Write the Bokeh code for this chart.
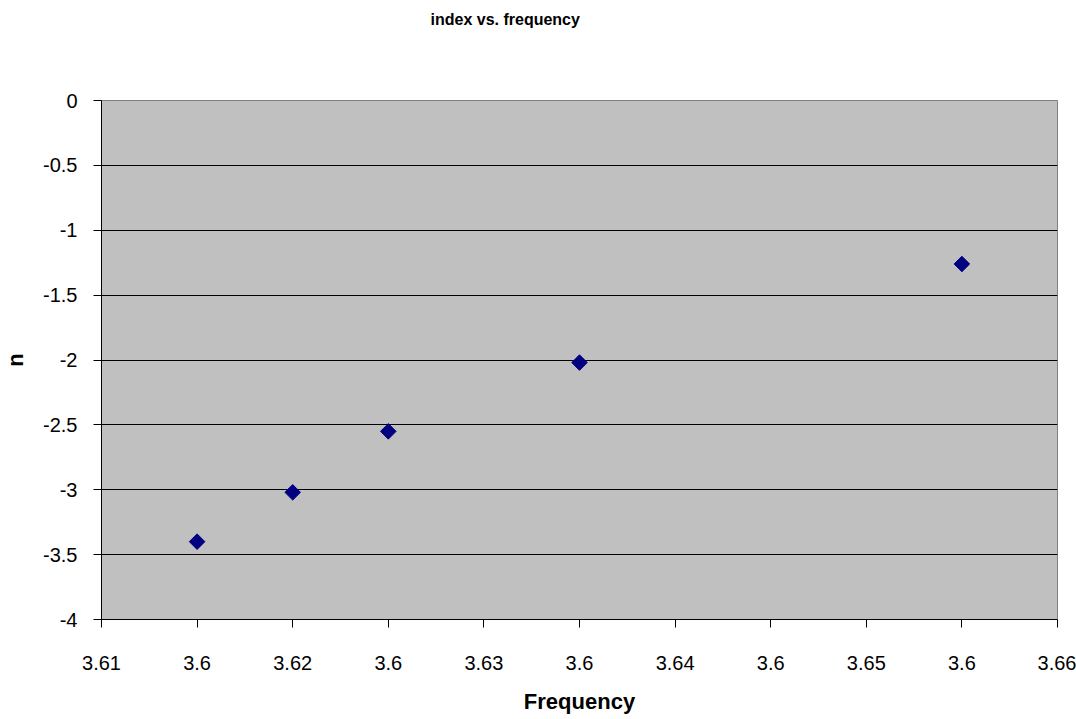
import math
from bokeh.plotting import figure
from bokeh.models import FixedTicker, Range1d, Title
from bokeh.embed import file_html
from bokeh.resources import INLINE

# Data
freq = [3.615, 3.62, 3.625, 3.635, 3.655]
n_vals = [-3.40, -3.02, -2.55, -2.02, -1.26]

x_ticks = [3.61, 3.615, 3.62, 3.625, 3.63, 3.635, 3.64, 3.645, 3.65, 3.655, 3.66]
x_tick_labels = ["3.61", "3.6", "3.62", "3.6", "3.63", "3.6", "3.64", "3.6", "3.65", "3.6", "3.66"]
y_ticks = [-4, -3.5, -3, -2.5, -2, -1.5, -1, -0.5, 0]
y_tick_labels = ["-4", "-3.5", "-3", "-2.5", "-2", "-1.5", "-1", "-0.5", "0"]
title_text = "index vs. frequency"

FONT = "Liberation Sans"

p = figure(width=1076, height=719, output_backend="svg", toolbar_location=None,
           x_range=Range1d(3.61, 3.66), y_range=Range1d(-4, 0),
           min_border_left=101, min_border_right=19, min_border_top=100, min_border_bottom=100)

p.background_fill_color = "#C0C0C0"
p.border_fill_color = "white"
p.outline_line_color = "#808080"
p.outline_line_width = 1

# spacer between frame and title
p.add_layout(Title(text=" ", text_font_size="1px", standoff=61), "above")

p.title.text = title_text
p.title.align = "left"
p.title.text_font = FONT
p.title.text_font_size = "16px"
p.title.text_font_style = "bold"
p.title.text_color = "black"
p.title.standoff = 17
p.title.offset = 329

# grid
p.xgrid.visible = False
p.ygrid.ticker = FixedTicker(ticks=y_ticks)
p.ygrid.grid_line_color = "black"
p.ygrid.grid_line_width = 1

# axes
p.xaxis.ticker = FixedTicker(ticks=x_ticks)
p.xaxis.major_label_overrides = {t: l for t, l in zip(x_ticks, x_tick_labels)}
p.yaxis.ticker = FixedTicker(ticks=y_ticks)
p.yaxis.major_label_overrides = {t: l for t, l in zip(y_ticks, y_tick_labels)}

for ax in (p.xaxis, p.yaxis):
    ax.axis_line_color = "black"
    ax.major_tick_line_color = "black"
    ax.major_tick_out = 8
    ax.major_tick_in = 0
    ax.minor_tick_out = 0
    ax.minor_tick_in = 0
    ax.major_label_text_font = FONT
    ax.major_label_text_font_size = "20px"
    ax.major_label_text_color = "black"
    ax.axis_label_text_font = FONT
    ax.axis_label_text_font_size = "22px"
    ax.axis_label_text_font_style = "bold"
    ax.axis_label_text_color = "black"

p.xaxis.axis_label = "Frequency"
p.yaxis.axis_label = "n"
p.xaxis.major_label_standoff = 28
p.yaxis.major_label_standoff = 16
p.xaxis.axis_label_standoff = 16
p.yaxis.axis_label_standoff = 12

p.scatter(freq, n_vals, marker="square", size=11, angle=math.pi / 4,
          fill_color="#000080", line_color="#000080")

open("out.html", "w").write(file_html(p, INLINE))
